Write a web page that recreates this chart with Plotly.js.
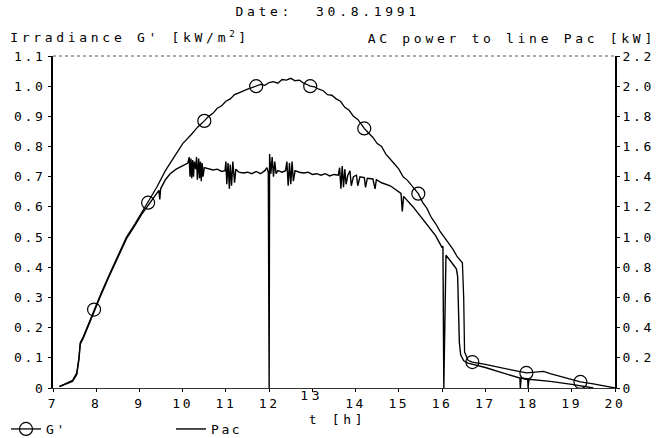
<!DOCTYPE html>
<html>
<head>
<meta charset="utf-8">
<script src="https://cdn.plot.ly/plotly-3.0.1.min.js"></script>
<style>
  html, body { margin: 0; padding: 0; background: #fff; }
  #chart { width: 661px; height: 438px; }
  .main-svg text { letter-spacing: 2.6px; }
  .main-svg .annotation-text { letter-spacing: 3.7px; }
</style>
</head>
<body>
<div id="chart"></div>
<script>
// ---- data ----
// Irradiance G' [kW/m2] (left axis)
const gT = [7.15, 7.25, 7.35, 7.45, 7.55, 7.6, 7.63, 7.7, 7.8, 7.95,
  8.1, 8.3, 8.5, 8.7, 8.9, 9.05, 9.2, 9.4, 9.6, 9.8,
  10.0, 10.2, 10.35, 10.5, 10.6, 10.7, 10.8, 10.9, 11.0, 11.1,
  11.2, 11.3, 11.4, 11.5, 11.6, 11.7, 11.8, 11.9, 12.0, 12.1,
  12.2, 12.3, 12.4, 12.5, 12.6, 12.7, 12.8, 12.9, 12.95, 13.05,
  13.15, 13.25, 13.35, 13.45, 13.55, 13.65, 13.75, 13.85, 13.95, 14.05,
  14.2, 14.3, 14.4, 14.5, 14.6, 14.7, 14.8, 14.9, 15.0, 15.1,
  15.2, 15.3, 15.45, 15.55, 15.65, 15.75, 15.85, 15.95, 16.05, 16.15,
  16.25, 16.35, 16.47, 16.5, 16.52, 16.6, 16.7, 17.0, 17.3, 17.6,
  17.95, 18.2, 18.35, 18.5, 18.8, 19.0, 19.2, 19.5, 19.8, 20.0];
const gV = [0.005, 0.012, 0.018, 0.025, 0.05, 0.10, 0.15, 0.17, 0.205, 0.26,
  0.31, 0.375, 0.44, 0.50, 0.545, 0.58, 0.614, 0.665, 0.72, 0.765,
  0.81, 0.84, 0.865, 0.885, 0.90, 0.91, 0.927, 0.935, 0.95, 0.958,
  0.972, 0.978, 0.985, 0.99, 0.995, 1.0, 1.006, 1.003, 1.012, 1.015,
  1.01, 1.022, 1.02, 1.026, 1.018, 1.02, 1.01, 1.004, 1.0, 0.998,
  0.99, 0.985, 0.972, 0.97, 0.958, 0.95, 0.93, 0.92, 0.90, 0.89,
  0.86, 0.845, 0.83, 0.81, 0.80, 0.775, 0.76, 0.742, 0.725, 0.70,
  0.688, 0.67, 0.644, 0.615, 0.595, 0.565, 0.545, 0.52, 0.50, 0.478,
  0.46, 0.435, 0.415, 0.30, 0.12, 0.092, 0.086, 0.078, 0.07, 0.06,
  0.05, 0.052, 0.055, 0.048, 0.035, 0.028, 0.02, 0.014, 0.006, 0.0];
// times of the circle markers on G'
const circleT = [7.95, 9.2, 10.5, 11.7, 12.95, 14.2, 15.45, 16.7, 17.95, 19.2];

// AC power to line Pac [kW] (right axis)
const pacT = [7.15, 7.25, 7.35, 7.45, 7.55, 7.6, 7.63, 7.7, 7.8, 7.95,
  8.1, 8.3, 8.5, 8.7, 8.9, 9.05, 9.2, 9.35, 9.45, 9.47,
  9.49, 9.6, 9.71, 9.85, 10.0, 10.12, 10.15, 10.17, 10.19, 10.21,
  10.23, 10.25, 10.27, 10.3, 10.32, 10.34, 10.37, 10.39, 10.41, 10.43,
  10.45, 10.47, 10.5, 10.6, 10.7, 10.8, 10.9, 10.98, 11.0, 11.02,
  11.05, 11.08, 11.1, 11.13, 11.16, 11.2, 11.23, 11.3, 11.4, 11.5,
  11.6, 11.7, 11.8, 11.9, 11.95, 11.98, 12.0, 12.01, 12.04, 12.07,
  12.1, 12.13, 12.16, 12.2, 12.3, 12.38, 12.41, 12.44, 12.47, 12.5,
  12.53, 12.56, 12.6, 12.7, 12.8, 12.9, 13.0, 13.1, 13.2, 13.3,
  13.4, 13.5, 13.6, 13.63, 13.66, 13.69, 13.72, 13.75, 13.78, 13.82,
  13.87, 13.9, 13.95, 14.02, 14.05, 14.1, 14.2, 14.23, 14.27, 14.4,
  14.45, 14.48, 14.6, 14.8, 14.95, 15.05, 15.08, 15.11, 15.33, 15.5,
  15.73, 15.85, 16.0, 16.02, 16.04, 16.09, 16.2, 16.33, 16.36, 16.38,
  16.4, 16.43, 16.5, 16.6, 17.0, 17.4, 17.8, 17.81, 17.83, 17.98,
  17.99, 18.01, 18.5, 19.0, 19.4, 19.5];
const pacKW = [0.01, 0.02, 0.034, 0.044, 0.09, 0.19, 0.29, 0.33, 0.40, 0.51,
  0.61, 0.74, 0.87, 0.99, 1.08, 1.15, 1.21, 1.27, 1.31, 1.25,
  1.32, 1.38, 1.42, 1.45, 1.475, 1.49, 1.53, 1.40, 1.52, 1.39,
  1.51, 1.40, 1.50, 1.45, 1.53, 1.38, 1.52, 1.39, 1.50, 1.37,
  1.49, 1.40, 1.46, 1.455, 1.445, 1.45, 1.435, 1.44, 1.50, 1.35,
  1.49, 1.32, 1.48, 1.34, 1.50, 1.36, 1.45, 1.43, 1.425, 1.43,
  1.42, 1.435, 1.42, 1.44, 1.46, 1.43, 0.0, 1.55, 1.42, 1.53,
  1.40, 1.50, 1.42, 1.44, 1.43, 1.44, 1.50, 1.34, 1.49, 1.35,
  1.50, 1.37, 1.44, 1.43, 1.425, 1.43, 1.415, 1.42, 1.41, 1.42,
  1.405, 1.415, 1.41, 1.46, 1.32, 1.47, 1.33, 1.45, 1.35, 1.41,
  1.44, 1.34, 1.40, 1.41, 1.34, 1.40, 1.395, 1.33, 1.39, 1.385,
  1.32, 1.38, 1.36, 1.34, 1.31, 1.29, 1.17, 1.27, 1.20, 1.14,
  1.06, 1.01, 0.93, 0.94, 0.0, 0.88, 0.84, 0.79, 0.74, 0.50,
  0.30, 0.22, 0.18, 0.165, 0.136, 0.10, 0.066, 0.0, 0.066, 0.06,
  0.0, 0.058, 0.044, 0.024, 0.006, 0.0];

// tick labels (the "13" label sits raised above the axis title, drawn separately)
const xTickVals = [7, 8, 9, 10, 11, 12, 13, 14, 15, 16, 17, 18, 19, 20];
const xTickText = ['7', '8', '9', '10', '11', '12', '', '14', '15', '16', '17', '18', '19', '20'];
const xRaisedTick = 13;
const yTickVals = [0, 0.1, 0.2, 0.3, 0.4, 0.5, 0.6, 0.7, 0.8, 0.9, 1.0, 1.1];
const yTickText = ['0', '0.1', '0.2', '0.3', '0.4', '0.5', '0.6', '0.7', '0.8', '0.9', '1.0', '1.1'];
const y2TickVals = [0, 0.2, 0.4, 0.6, 0.8, 1.0, 1.2, 1.4, 1.6, 1.8, 2.0, 2.2];
const y2TickText = ['0', '0.2', '0.4', '0.6', '0.8', '1.0', '1.2', '1.4', '1.6', '1.8', '2.0', '2.2'];

// ---- chart ----
const FONT = 'DejaVu Sans Mono, Liberation Mono, monospace';
const circleIdx = [];
gT.forEach((t, i) => { if (circleT.some(c => Math.abs(c - t) < 1e-9)) circleIdx.push(i); });

const traces = [
  {
    x: gT, y: gV, name: "G'", type: 'scatter', mode: 'lines+markers',
    line: {color: '#000', width: 1.3},
    marker: {symbol: 'circle-open', size: 13, color: '#000', line: {width: 1.2, color: '#000'}},
    selectedpoints: circleIdx,
    selected: {marker: {opacity: 1}},
    unselected: {marker: {opacity: 0}},
    yaxis: 'y'
  },
  {
    x: pacT, y: pacKW, name: 'Pac', type: 'scatter', mode: 'lines',
    line: {color: '#000', width: 1.4},
    yaxis: 'y2'
  }
];

const W = 661, H = 438, ML = 53, MR = 46, MT = 56, MB = 50;
const PW = W - ML - MR, PH = H - MT - MB;
const px = x => (x - ML) / PW;
const py = y => (H - MB - y) / PH;

const layout = {
  width: W, height: H,
  margin: {l: ML, r: MR, t: MT, b: MB, pad: 0, autoexpand: false},
  paper_bgcolor: '#fff', plot_bgcolor: '#fff',
  font: {family: FONT, size: 13, color: '#000'},
  showlegend: true,
  legend: {
    orientation: 'h', x: px(6), y: py(414), xanchor: 'left', yanchor: 'top',
    entrywidth: 120, entrywidthmode: 'pixels',
    font: {family: FONT, size: 13, color: '#000'}, bgcolor: 'rgba(0,0,0,0)'
  },
  xaxis: {
    range: [7, 20], tickmode: 'array', tickvals: xTickVals, ticktext: xTickText,
    ticks: 'outside', ticklen: 3, tickcolor: '#000', tickwidth: 1,
    showline: true, linecolor: '#333', linewidth: 1,
    showgrid: false, zeroline: false,
    tickfont: {family: FONT, size: 13, color: '#000'}
  },
  yaxis: {
    range: [0, 1.1], tickmode: 'array', tickvals: yTickVals, ticktext: yTickText,
    ticks: 'outside', ticklen: 3, tickcolor: '#000', tickwidth: 1,
    showline: true, linecolor: '#000', linewidth: 2,
    showgrid: false, zeroline: false,
    tickfont: {family: FONT, size: 13, color: '#000'}
  },
  yaxis2: {
    range: [0, 2.2], overlaying: 'y', side: 'right', tickmode: 'array',
    tickvals: y2TickVals, ticktext: y2TickText,
    ticks: 'outside', ticklen: 3, tickcolor: '#000', tickwidth: 1,
    showline: true, linecolor: '#000', linewidth: 2,
    showgrid: false, zeroline: false,
    tickfont: {family: FONT, size: 13, color: '#000'}
  },
  shapes: [
    {type: 'line', xref: 'paper', yref: 'paper', x0: 0, x1: 1, y0: 1, y1: 1,
     line: {color: '#555', width: 1, dash: 'dot'}}
  ],
  annotations: [
    {text: 'Date:\u00a0\u00a030.8.1991', xref: 'paper', yref: 'paper',
     x: px(327), y: py(12), xanchor: 'center', yanchor: 'middle', showarrow: false,
     font: {family: FONT, size: 13, color: '#000'}},
    {text: "Irradiance G' [kW/m<sup>2</sup>]", xref: 'paper', yref: 'paper',
     x: px(130), y: py(37), xanchor: 'center', yanchor: 'middle', showarrow: false,
     font: {family: FONT, size: 13, color: '#000'}},
    {text: 'AC power to line Pac [kW]', xref: 'paper', yref: 'paper',
     x: px(512), y: py(38), xanchor: 'center', yanchor: 'middle', showarrow: false,
     font: {family: FONT, size: 13, color: '#000'}},
    {text: String(xRaisedTick), xref: 'x', yref: 'paper',
     x: xRaisedTick, y: py(395), xanchor: 'center', yanchor: 'middle', showarrow: false,
     font: {family: FONT, size: 13, color: '#000'}},
    {text: 't [h]', xref: 'paper', yref: 'paper',
     x: px(337), y: py(419), xanchor: 'center', yanchor: 'middle', showarrow: false,
     font: {family: FONT, size: 13, color: '#000'}}
  ]
};

Plotly.newPlot('chart', traces, layout, {displayModeBar: false, staticPlot: true});
</script>
</body>
</html>
